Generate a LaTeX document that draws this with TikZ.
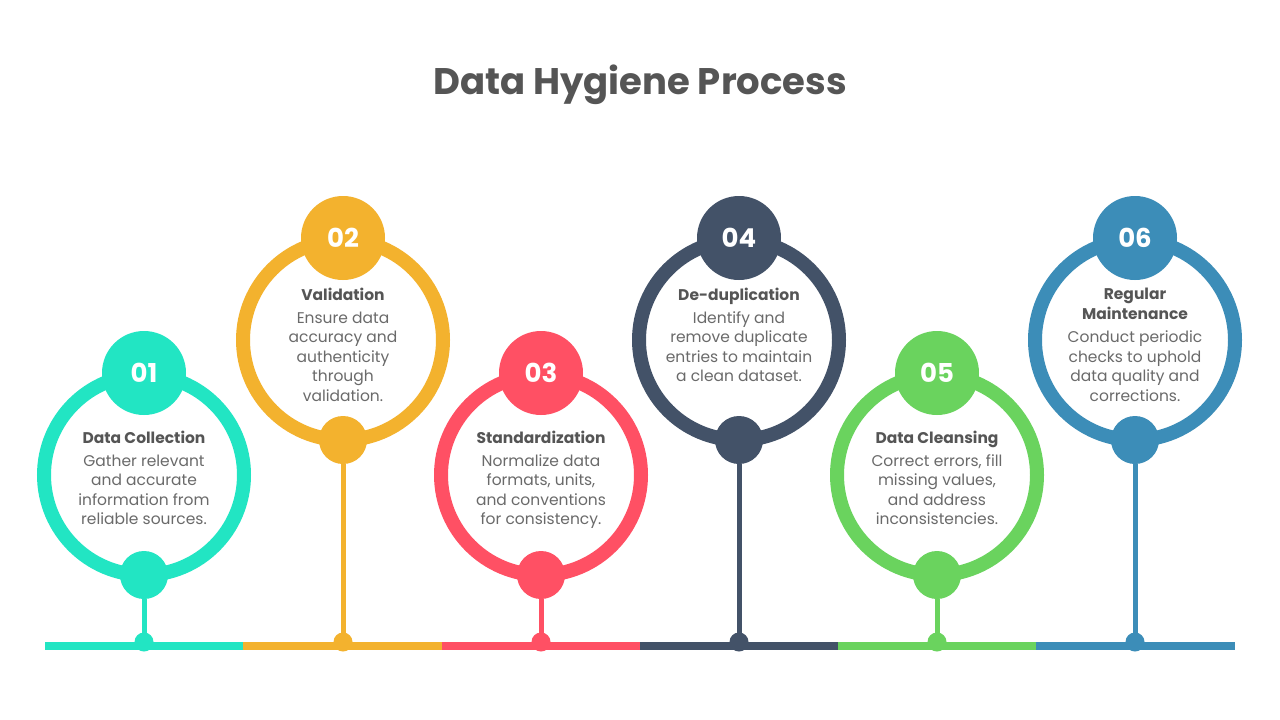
\documentclass[tikz,border=0pt]{standalone}
\usepackage{fontspec}
\setmainfont{Poppins}
\definecolor{cA}{HTML}{22E5C3}
\definecolor{cB}{HTML}{F3B22E}
\definecolor{cC}{HTML}{FF5064}
\definecolor{cD}{HTML}{435268}
\definecolor{cE}{HTML}{6AD35E}
\definecolor{cF}{HTML}{3C8DB8}
\definecolor{headgray}{HTML}{555555}
\definecolor{bodygray}{HTML}{6A6A6A}
\tikzset{
  ring/.style={circle, draw=#1, line width=14pt, minimum size=200pt, inner sep=0pt},
  numc/.style={circle, fill=#1, minimum size=84pt, inner sep=0pt, text=white,
    font=\bfseries\fontsize{26}{26}\selectfont},
  dotc/.style={circle, fill=#1, minimum size=48pt, inner sep=0pt},
  basedot/.style={circle, fill=#1, minimum size=19pt, inner sep=0pt},
  stem/.style={draw=#1, line width=5pt},
  txt/.style={align=center, inner sep=0pt, text=bodygray, anchor=north,
    font=\fontsize{15.5}{19.5}\selectfont},
}
\newcommand\hd[1]{\textcolor{headgray}{\bfseries #1}}
% #1 id, #2 x, #3 ring y, #4 colour, #5 number, #6 text top, #7 text
\newcommand\stepitem[7]{%
  \node[ring=#4] (r#1) at (#2,#3) {};
  \node[numc=#4] (n#1) at (#2,#3-102) {#5};
  \node[dotc=#4] (b#1) at (#2,#3+100) {};
  \node[basedot=#4] (d#1) at (#2,642) {};
  \draw[stem=#4] (b#1.south) -- (d#1.center);
  \node[txt] (t#1) at (#2,#6) {#7};
}
\begin{document}
\begin{tikzpicture}[x=1pt,y=-1pt]
\useasboundingbox (0,0) rectangle (1280,720);
\fill[white] (0,0) rectangle (1280,720);
\node[font=\bfseries\fontsize{37}{37}\selectfont, text=headgray] (title) at (640,85) {Data Hygiene Process};

\stepitem{1}{144}{475}{cA}{01}{431}{\hd{Data Collection}\\[3pt] Gather relevant\\ and accurate\\ information from\\ reliable sources.}
\stepitem{2}{343}{340}{cB}{02}{288}{\hd{Validation}\\[3pt] Ensure data\\ accuracy and\\ authenticity\\ through\\ validation.}
\stepitem{3}{541}{475}{cC}{03}{431}{\hd{Standardization}\\[3pt] Normalize data\\ formats, units,\\ and conventions\\ for consistency.}
\stepitem{4}{739}{340}{cD}{04}{288}{\hd{De-duplication}\\[3pt] Identify and\\ remove duplicate\\ entries to maintain\\ a clean dataset.}
\stepitem{5}{937}{475}{cE}{05}{431}{\hd{Data Cleansing}\\[3pt] Correct errors, fill\\ missing values,\\ and address\\ inconsistencies.}
\stepitem{6}{1135}{340}{cF}{06}{288}{\hd{Regular}\\ \hd{Maintenance}\\[4pt] Conduct periodic\\ checks to uphold\\ data quality and\\ corrections.}

\fill[cA] (45,642) rectangle (243.5,650);
\fill[cB] (243,642) rectangle (442.5,650);
\fill[cC] (442,642) rectangle (640.5,650);
\fill[cD] (640,642) rectangle (838.5,650);
\fill[cE] (838,642) rectangle (1036.5,650);
\fill[cF] (1036,642) rectangle (1235,650);
\end{tikzpicture}
\end{document}
